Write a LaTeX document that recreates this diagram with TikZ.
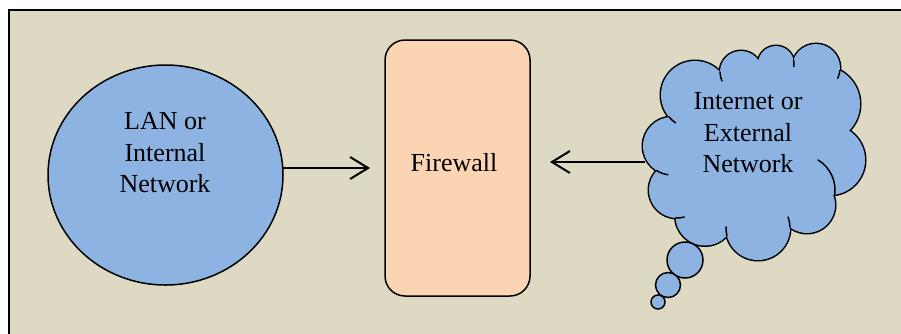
\documentclass[tikz,border=0pt]{standalone}
\usepackage{fontspec}
\setmainfont{Liberation Serif}
\usetikzlibrary{arrows.meta,shapes.geometric,calc}
\definecolor{bgtan}{HTML}{DDD9C3}
\definecolor{netblue}{HTML}{8DB3E2}
\definecolor{fwpeach}{HTML}{FBD4B4}
\begin{document}
\begin{tikzpicture}[x=1pt,y=1pt,
  bigtext/.style={font=\rmfamily\fontsize{26}{31.5}\selectfont, align=center, inner sep=0pt},
  shapeline/.style={draw=black, line width=1.5pt},
  hook/.style={draw=black, line width=1.5pt, line cap=round},
  flow/.style={line width=2pt, -{Straight Barb[length=18pt,width=22pt]}}]
\useasboundingbox (0,0) rectangle (901,-333);
\fill[white] (0,0) rectangle (901,-333);
% page frame, running past the right and bottom edges
\begin{scope}
  \clip (0,0) rectangle (901,-333);
  \draw[line width=2pt, fill=bgtan] (9,-10) rectangle (920,-350);
\end{scope}

% internal network
\node[shapeline, ellipse, fill=netblue, minimum width=235, minimum height=220, inner sep=0pt, outer sep=0pt] (lan) at (165.5,-175) {};
\node[bigtext] (lantext) at (165,-153) {LAN or\\Internal\\Network};

% firewall
\node[shapeline, rounded corners=20pt, fill=fwpeach, minimum width=145, minimum height=256, inner sep=0pt, outer sep=0pt] (fw) at (457.5,-168) {};
\node[bigtext] (fwtext) at (454,-163) {Firewall};

% cloud: union of puffs, outlined once (thick stroke, then refill)
\def\puffs{695/-95/34, 741/-72/21, 776/-64/18, 816/-68/24, 822/-104/38, 830/-160/35, 807/-205/28, 758/-228/32, 705/-216/29.5, 677/-190/28, 672/-146/29}
\foreach \cx/\cy/\r in \puffs { \draw[line width=3pt, fill=netblue] (\cx,\cy) circle (\r); }
\fill[netblue] (695,-95) -- (741,-72) -- (776,-64) -- (816,-68) -- (822,-104) -- (830,-160)
  -- (807,-205) -- (758,-228) -- (705,-216) -- (677,-190) -- (672,-146) -- cycle;
\fill[netblue] (755,-145) ellipse (75 and 65);
\foreach \cx/\cy/\r in \puffs { \fill[netblue] (\cx,\cy) circle (\r); }
% puff edges running on past the dips
\draw[hook] (695,-95) ++(220:34) arc[start angle=220, end angle=235, radius=34];
\draw[hook] (741,-72) ++(180:21) arc[start angle=180, end angle=205, radius=21];
\draw[hook] (776,-64) ++(13:18) arc[start angle=13, end angle=-8, radius=18];
\draw[hook] (816,-68) ++(-6:24) arc[start angle=-6, end angle=-25, radius=24];
\draw[hook] (800,-190) ++(59:35) arc[start angle=59, end angle=-8, radius=35];
\draw[hook] (758,-228) ++(1.5:32) arc[start angle=1.5, end angle=20, radius=32];
\draw[hook] (758,-228) ++(194:32) arc[start angle=194, end angle=178, radius=32];
\draw[hook] (677,-190) ++(267:28) arc[start angle=267, end angle=285, radius=28];
\draw[hook] (672,-146) ++(238:29) arc[start angle=238, end angle=262, radius=29];
\node[bigtext] (inettext) at (748,-133) {Internet or\\External\\Network};
\coordinate (inetw) at (645,-162);

% thought bubbles
\draw[shapeline, fill=netblue] (685,-260) circle (18);
\draw[shapeline, fill=netblue] (668,-285) circle (12.5);
\draw[shapeline, fill=netblue] (658,-302) circle (7);

% connectors
\draw[flow, shorten >=15pt] (lan.east |- fw.center) -- (fw.west);
\draw[flow, shorten >=20pt] (inetw) -- (fw.east |- inetw);
\end{tikzpicture}
\end{document}
